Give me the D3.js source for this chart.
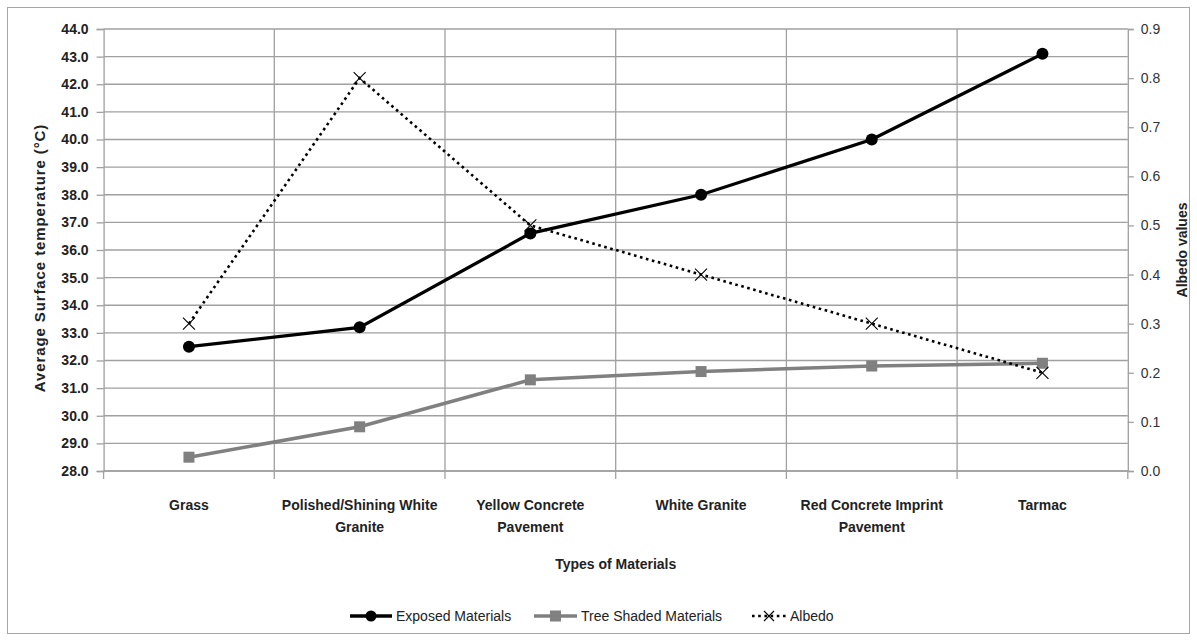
<!DOCTYPE html>
<html><head><meta charset="utf-8">
<script src="https://cdn.jsdelivr.net/npm/d3@7"></script>
<style>
body{margin:0;background:#fff;}
text{font-family:"Liberation Sans",Arial,sans-serif;}
</style></head>
<body><svg id="c" width="1197" height="641"></svg>
<script>
const categories = [["Grass"],["Polished/Shining White","Granite"],["Yellow Concrete","Pavement"],["White Granite"],["Red Concrete Imprint","Pavement"],["Tarmac"]];
const exposed = [32.5, 33.2, 36.6, 38.0, 40.0, 43.1];
const treeShaded = [28.5, 29.6, 31.3, 31.6, 31.8, 31.9];
const albedo = [0.3, 0.8, 0.5, 0.4, 0.3, 0.2];
const leftTicks = d3.range(28, 44.001, 1);
const rightTicks = d3.range(0, 0.9001, 0.1);

const svg = d3.select("#c");
const L = 103.6, R = 1127.8, T = 29, B = 471;
svg.append("rect").attr("x",7.5).attr("y",7.5).attr("width",1182).attr("height",626)
  .attr("fill","#fff").attr("stroke","#a6a6a6").attr("stroke-width",1);

const idx = categories.map((d,i)=>i);
const x = d3.scaleBand().domain(idx).range([L,R]).padding(0);
const yL = d3.scaleLinear().domain([28,44]).range([B,T]);
const yR = d3.scaleLinear().domain([0,0.9]).range([B,T]);
const cx = i => x(i) + x.bandwidth()/2;
const grid = "#a0a0a0";

// horizontal gridlines
svg.append("g").selectAll("line").data(leftTicks).join("line")
  .attr("x1",L).attr("x2",R).attr("y1",d=>yL(d)).attr("y2",d=>yL(d))
  .attr("stroke",grid).attr("stroke-width",1.3);
// vertical gridlines + ticks below
const bounds = idx.map(i=>x(i)).concat([R]);
svg.append("g").selectAll("line").data(bounds.slice(1,6)).join("line")
  .attr("x1",d=>d).attr("x2",d=>d).attr("y1",T).attr("y2",B+8)
  .attr("stroke",grid).attr("stroke-width",1.3);
svg.append("line").attr("x1",L).attr("x2",L).attr("y1",B).attr("y2",B+8).attr("stroke",grid).attr("stroke-width",1.3);
svg.append("line").attr("x1",R).attr("x2",R).attr("y1",B).attr("y2",B+8).attr("stroke",grid).attr("stroke-width",1.3);

// left axis
const gl = svg.append("g").attr("transform",`translate(${L},0)`)
  .call(d3.axisLeft(yL).tickValues(leftTicks).tickFormat(d3.format(".1f")).tickSize(7).tickPadding(8));
gl.select(".domain").attr("stroke",grid).attr("stroke-width",1.3);
gl.selectAll(".tick line").attr("stroke",grid).attr("stroke-width",1.3);
gl.selectAll("text").attr("font-size",14).attr("font-weight","bold").attr("fill","#222")
  .style("font-family",'"Liberation Sans",Arial,sans-serif');
// right axis
const gr = svg.append("g").attr("transform",`translate(${R},0)`)
  .call(d3.axisRight(yR).tickValues(rightTicks).tickFormat(d3.format(".1f")).tickSize(6).tickPadding(7));
gr.select(".domain").attr("stroke",grid).attr("stroke-width",1.3);
gr.selectAll(".tick line").attr("stroke",grid).attr("stroke-width",1.3);
gr.selectAll("text").attr("font-size",14).attr("fill","#333")
  .style("font-family",'"Liberation Sans",Arial,sans-serif');
// bottom x axis line
svg.append("line").attr("x1",L).attr("x2",R).attr("y1",B).attr("y2",B).attr("stroke",grid).attr("stroke-width",1.3);

// category labels
const cl = svg.append("g").selectAll("text").data(categories).join("text")
  .attr("x",(d,i)=>cx(i)).attr("y",510).attr("text-anchor","middle")
  .attr("font-size",14).attr("font-weight","bold").attr("fill","#222");
cl.each(function(d){
  const t = d3.select(this);
  d.forEach((s,k)=>t.append("tspan").attr("x",t.attr("x")).attr("dy",k===0?0:22).text(s));
});

// axis titles
svg.append("text").attr("x",(L+R)/2).attr("y",569).attr("text-anchor","middle")
  .attr("font-size",14).attr("font-weight","bold").attr("fill","#222").text("Types of Materials");
svg.append("text").attr("transform",`translate(45,${(T+B)/2+8}) rotate(-90)`).attr("text-anchor","middle")
  .attr("font-size",15).attr("font-weight","bold").attr("letter-spacing",0.9).attr("fill","#222").text("Average Surface temperature (°C)");
svg.append("text").attr("transform",`translate(1187,${(T+B)/2}) rotate(-90)`).attr("text-anchor","middle")
  .attr("font-size",14).attr("font-weight","bold").attr("fill","#222").text("Albedo values");

// series
const lineL = d3.line().x((d,i)=>cx(i)).y(d=>yL(d));
const lineR = d3.line().x((d,i)=>cx(i)).y(d=>yR(d));

svg.append("path").datum(treeShaded).attr("d",lineL).attr("fill","none").attr("stroke","#808080").attr("stroke-width",3.5);
svg.append("g").selectAll("rect").data(treeShaded).join("rect")
  .attr("x",(d,i)=>cx(i)-5.5).attr("y",d=>yL(d)-5.5).attr("width",11).attr("height",11).attr("fill","#808080");

svg.append("path").datum(exposed).attr("d",lineL).attr("fill","none").attr("stroke","#000").attr("stroke-width",3.3);
svg.append("g").selectAll("circle").data(exposed).join("circle")
  .attr("cx",(d,i)=>cx(i)).attr("cy",d=>yL(d)).attr("r",6).attr("fill","#000");

svg.append("path").datum(albedo).attr("d",lineR).attr("fill","none").attr("stroke","#000")
  .attr("stroke-width",2.6).attr("stroke-dasharray","2.6,3.6");
svg.append("g").selectAll("path").data(albedo).join("path")
  .attr("d",(d,i)=>{const X=cx(i),Y=yR(d),s=6;return `M${X-s},${Y-s}L${X+s},${Y+s}M${X-s},${Y+s}L${X+s},${Y-s}`;})
  .attr("stroke","#000").attr("stroke-width",1.1).attr("fill","none");

// legend
const ly = 616;
const lg = svg.append("g");
lg.append("line").attr("x1",350).attr("x2",392).attr("y1",ly).attr("y2",ly).attr("stroke","#000").attr("stroke-width",3.3);
lg.append("circle").attr("cx",371).attr("cy",ly).attr("r",5.5).attr("fill","#000");
lg.append("text").attr("x",396).attr("y",ly+5).attr("font-size",14).attr("fill","#222").text("Exposed Materials");
lg.append("line").attr("x1",534).attr("x2",577).attr("y1",ly).attr("y2",ly).attr("stroke","#808080").attr("stroke-width",3.5);
lg.append("rect").attr("x",550).attr("y",ly-5.5).attr("width",11).attr("height",11).attr("fill","#808080");
lg.append("text").attr("x",581).attr("y",ly+5).attr("font-size",14).attr("fill","#222").text("Tree Shaded Materials");
lg.append("line").attr("x1",752).attr("x2",786).attr("y1",ly).attr("y2",ly).attr("stroke","#000").attr("stroke-width",2.6).attr("stroke-dasharray","2.6,3.6");
lg.append("path").attr("d",`M${769-5},${ly-5}L${769+5},${ly+5}M${769-5},${ly+5}L${769+5},${ly-5}`).attr("stroke","#000").attr("stroke-width",1.1);
lg.append("text").attr("x",790).attr("y",ly+5).attr("font-size",14).attr("fill","#222").text("Albedo");
</script></body></html>
